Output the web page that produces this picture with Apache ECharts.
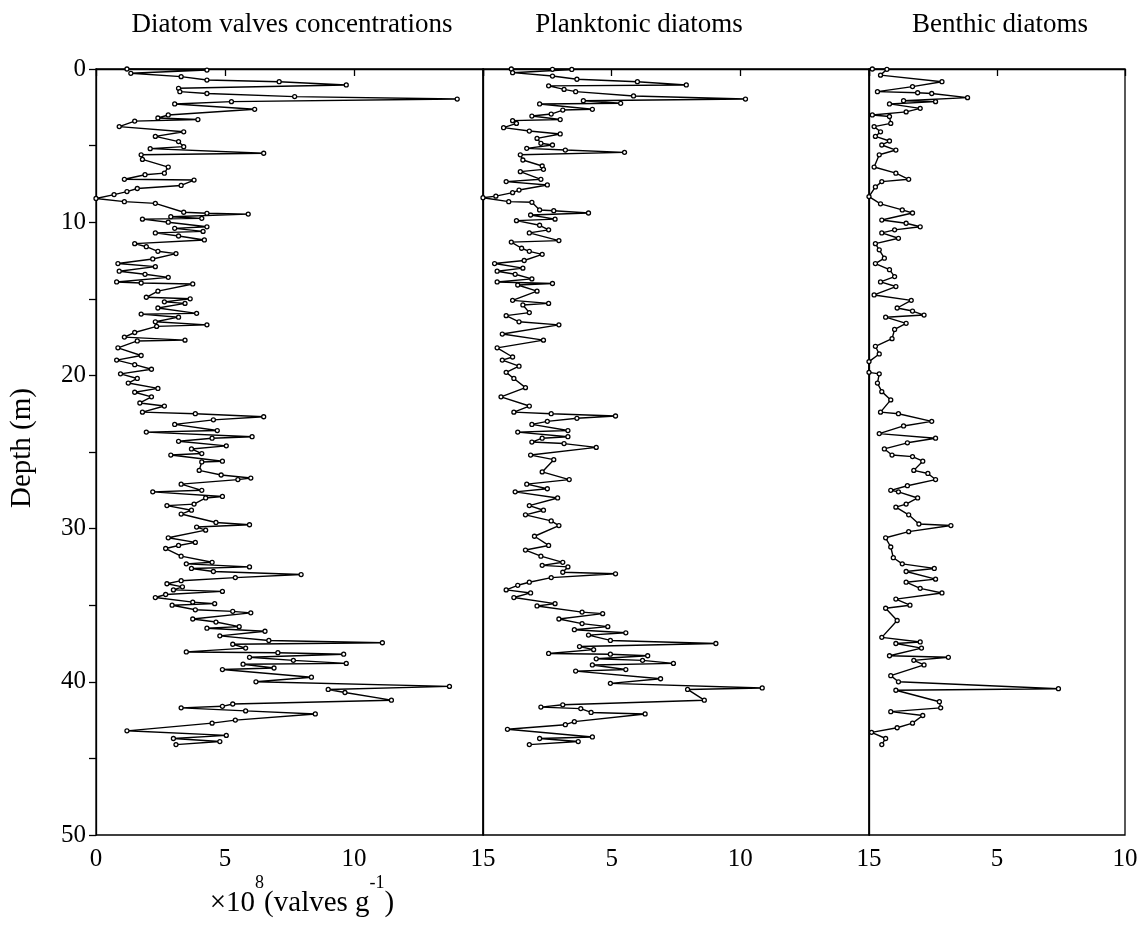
<!DOCTYPE html>
<html>
<head>
<meta charset="utf-8">
<script src="https://cdn.jsdelivr.net/npm/echarts@6/dist/echarts.min.js"></script>
<style>
  html, body { margin: 0; padding: 0; background: #fff; }
  #chart { width: 1145px; height: 929px; }
</style>
</head>
<body>
<div id="chart"></div>
<script>
// depth (m) and value (x10^8 valves/g)
var totalDepth = [0.0,0.07,0.28,0.5,0.72,0.83,1.04,1.26,1.48,1.6,1.8,1.96,2.13,2.28,2.63,3.0,3.2,3.3,3.4,3.76,4.1,4.4,4.74,5.07,5.2,5.5,5.6,5.9,6.4,6.8,6.9,7.2,7.25,7.6,7.8,8.0,8.2,8.45,8.66,8.77,9.35,9.42,9.47,9.64,9.75,9.8,10.0,10.3,10.4,10.6,10.7,10.9,11.16,11.4,11.6,11.9,12.05,12.4,12.7,12.9,13.2,13.4,13.6,13.9,13.97,14.03,14.5,14.9,15.0,15.2,15.3,15.6,15.95,16.0,16.2,16.5,16.7,16.8,17.2,17.5,17.7,17.75,18.2,18.7,19.0,19.3,19.6,19.9,20.2,20.5,20.85,21.1,21.4,21.8,22.0,22.4,22.5,22.7,22.9,23.2,23.6,23.7,24.0,24.1,24.3,24.6,24.8,25.1,25.2,25.6,25.65,26.2,26.5,26.7,26.8,27.1,27.5,27.6,27.9,28.0,28.4,28.5,28.8,29.05,29.6,29.75,29.9,30.1,30.6,30.9,31.1,31.3,31.8,32.2,32.3,32.5,32.6,32.8,33.0,33.2,33.4,33.6,33.8,34.0,34.1,34.3,34.5,34.8,34.9,35.0,35.3,35.4,35.5,35.9,36.1,36.4,36.5,36.7,37.0,37.3,37.45,37.55,37.8,38.05,38.1,38.2,38.4,38.6,38.8,38.85,39.1,39.2,39.7,40.0,40.3,40.5,40.7,41.2,41.45,41.6,41.7,41.9,42.1,42.5,42.7,43.2,43.5,43.7,43.9,44.1];
var totalValue = [1.2,4.3,1.35,3.3,4.3,7.1,9.7,3.2,3.25,4.3,7.7,14.0,5.25,3.05,6.15,2.8,2.4,3.95,1.5,0.9,3.4,2.3,3.2,3.4,2.1,6.5,1.75,1.8,2.8,2.65,1.9,1.1,3.8,3.3,1.6,1.2,0.7,0.0,1.1,2.3,3.4,4.3,5.9,2.9,4.1,1.8,2.8,4.3,3.05,4.15,2.3,3.2,4.2,1.5,1.95,2.4,3.1,2.2,0.85,2.3,0.9,1.9,2.8,0.8,1.75,3.75,2.4,1.95,3.65,2.65,3.45,2.4,3.9,1.75,3.2,2.3,4.3,2.35,1.5,1.1,3.45,1.6,0.85,1.75,0.8,1.5,2.15,0.95,1.6,1.25,2.4,1.5,2.15,1.7,2.65,1.8,3.85,6.5,4.55,3.05,4.7,1.95,6.05,4.5,3.2,5.05,3.7,4.1,2.9,4.9,4.1,4.0,4.85,6.0,5.5,3.3,4.1,2.2,4.9,4.25,3.8,2.75,3.7,3.3,4.65,5.95,3.9,4.25,2.8,3.85,3.2,2.7,3.3,4.5,3.5,5.95,3.7,4.55,7.95,5.4,3.3,2.75,3.35,3.0,4.9,2.7,2.3,3.75,4.6,2.95,3.85,5.3,6.0,3.75,4.65,5.55,4.3,6.55,4.8,6.7,11.1,5.3,5.8,3.5,7.05,9.6,5.95,7.65,9.7,5.7,6.9,4.9,8.35,6.2,13.7,9.0,9.65,11.45,5.3,4.9,3.3,5.8,8.5,5.4,4.5,1.2,5.05,3.0,4.8,3.1];

var plankDepth = [0.0,0.02,0.03,0.24,0.46,0.67,0.83,1.04,1.1,1.33,1.48,1.76,1.96,2.07,2.24,2.28,2.63,2.68,2.94,3.07,3.3,3.37,3.55,3.83,4.05,4.24,4.53,4.85,4.96,5.18,5.29,5.44,5.6,5.94,6.33,6.55,6.7,7.2,7.35,7.57,7.9,8.07,8.3,8.4,8.66,8.7,9.2,9.25,9.4,9.53,9.8,9.9,10.2,10.5,10.7,11.2,11.3,11.7,11.9,12.1,12.5,12.7,13.0,13.2,13.4,13.7,13.9,14.0,14.1,14.5,15.1,15.3,15.4,15.9,16.1,16.5,16.7,17.3,17.7,18.2,18.8,19.0,19.4,19.8,20.2,20.8,21.4,22.0,22.4,22.5,22.65,22.8,23.0,23.2,23.6,23.7,24.0,24.1,24.35,24.45,24.7,25.2,25.5,26.3,26.8,27.1,27.4,27.6,28.0,28.5,28.8,29.1,29.5,29.8,30.5,31.1,31.4,31.8,32.2,32.4,32.5,32.85,32.95,33.2,33.5,33.7,34.0,34.2,34.5,34.9,35.05,35.45,35.55,35.9,36.2,36.4,36.6,36.8,36.95,37.3,37.5,37.7,37.9,38.15,38.2,38.3,38.5,38.6,38.8,38.9,39.2,39.3,39.8,40.1,40.4,40.5,41.2,41.5,41.65,41.75,42.0,42.1,42.6,42.8,43.1,43.6,43.7,43.9,44.1];
var plankValue = [1.1,2.7,3.45,1.15,2.7,3.65,6.0,7.9,2.55,3.15,3.6,5.85,10.2,3.9,5.35,2.2,4.25,3.1,2.65,1.9,3.0,1.15,1.3,0.8,1.8,3.0,2.1,2.25,2.7,1.7,3.2,5.5,1.45,1.55,2.3,2.35,1.45,2.25,0.9,2.5,1.4,1.15,0.5,0.0,1.0,1.9,2.2,2.75,4.1,1.85,2.8,1.3,2.2,2.55,1.8,2.95,1.1,1.5,1.8,2.3,1.6,0.45,1.55,0.55,1.25,1.9,0.55,2.7,1.35,2.1,1.15,2.55,1.55,1.8,0.9,1.4,2.95,0.75,2.35,0.55,1.15,0.75,1.4,0.9,1.2,1.65,0.7,1.8,1.2,2.65,5.15,3.65,2.5,1.9,3.3,1.35,3.3,2.3,1.9,3.15,4.4,1.85,2.75,2.3,3.35,1.7,2.5,1.25,2.9,1.8,2.35,1.65,2.65,2.95,2.0,2.55,1.65,2.25,3.1,2.3,3.3,3.1,5.15,2.65,1.8,1.35,0.9,1.85,1.2,2.8,2.1,3.85,4.65,2.95,3.85,4.85,3.55,5.55,4.1,4.95,9.05,3.75,4.3,2.55,4.95,6.4,4.4,6.2,7.4,4.25,5.55,3.6,6.9,4.95,10.85,7.95,8.6,3.1,2.25,3.8,4.2,6.3,3.55,3.2,0.95,4.25,2.2,3.7,1.8];

var benthDepth = [0.0,0.02,0.4,0.83,1.15,1.48,1.55,1.6,1.87,2.07,2.13,2.28,2.57,2.8,3.0,3.1,3.55,3.76,4.1,4.4,4.7,4.96,5.29,5.6,6.4,6.8,7.2,7.35,7.7,8.33,8.8,9.2,9.4,9.86,10.07,10.3,10.5,10.7,11.05,11.4,11.8,12.35,12.7,13.1,13.55,13.9,14.2,14.75,15.1,15.6,15.8,16.06,16.2,16.6,17.0,17.6,18.1,18.6,19.1,19.8,19.9,20.5,21.06,21.6,22.4,22.5,23.0,23.3,23.8,24.1,24.4,24.8,25.2,25.3,25.6,26.2,26.4,26.8,27.2,27.5,27.6,28.0,28.4,28.6,29.1,29.7,29.8,30.2,30.6,31.2,31.9,32.3,32.6,32.8,33.3,33.5,33.9,34.2,34.6,35.0,35.2,36.0,37.1,37.4,37.5,37.8,38.3,38.4,38.6,38.9,39.6,40.0,40.45,40.55,41.3,41.7,41.95,42.2,42.7,43.0,43.3,43.7,44.1];
var benthValue = [0.13,0.7,0.45,2.85,1.7,0.33,1.9,2.45,3.85,1.35,2.6,0.8,2.0,1.45,0.13,0.8,0.85,0.2,0.45,0.25,0.8,0.5,1.05,0.4,0.2,1.05,1.55,0.5,0.25,0.0,0.45,1.3,1.7,0.5,1.45,2.0,1.0,0.5,1.15,0.25,0.4,0.6,0.25,0.8,1.0,0.45,1.05,0.2,1.65,1.1,1.7,2.15,0.65,1.45,1.0,0.9,0.25,0.4,0.0,0.0,0.4,0.33,0.5,0.85,0.45,1.15,2.45,1.35,0.4,2.6,1.5,0.6,0.9,1.7,2.1,1.75,2.3,2.6,1.5,0.85,1.15,1.9,1.45,1.05,1.55,1.95,3.2,1.55,0.65,0.85,0.95,1.3,2.55,1.45,2.6,1.45,2.0,2.85,1.05,1.6,0.65,1.1,0.5,2.0,1.05,2.05,0.8,3.1,1.75,2.15,0.85,1.15,7.4,1.05,2.75,2.8,0.85,2.1,1.7,1.1,0.1,0.65,0.5];

var panelTitles = ['Diatom valves concentrations', 'Planktonic diatoms', 'Benthic diatoms'];
var panelMax = [15, 15, 10];
var depthMax = 50;

var chart = echarts.init(document.getElementById('chart'));
var FONT = '"Liberation Serif", "DejaVu Serif", serif';

var grids = [
    { left: 96, top: 69, width: 387, height: 766 },
    { left: 483, top: 69, width: 386, height: 766 },
    { left: 869, top: 69, width: 256, height: 766 }
];

function pairs(depths, values) {
    var out = [];
    for (var i = 0; i < depths.length; i++) {
        out.push([values[i], depths[i]]);
    }
    return out;
}
var seriesData = [
    pairs(totalDepth, totalValue),
    pairs(plankDepth, plankValue),
    pairs(benthDepth, benthValue)
];

var xAxes = [], yAxes = [], series = [];
for (var i = 0; i < 3; i++) {
    grids[i].show = true;
    grids[i].borderColor = '#000';
    grids[i].borderWidth = 1.3;
    grids[i].backgroundColor = 'transparent';
    (function(idx) {
        xAxes.push({
            type: 'value', gridIndex: idx, min: 0, max: panelMax[idx], interval: 5,
            position: 'bottom',
            axisLine: { show: true, lineStyle: { color: '#000', width: 1.3 } },
            axisTick: { show: true, length: 7, lineStyle: { color: '#000', width: 1.3 } },
            splitLine: { show: false },
            axisLabel: {
                color: '#000', fontFamily: FONT, fontSize: 25, margin: 12,
                formatter: function(v) { return (idx > 0 && v === 0) ? '' : String(v); }
            }
        });
        yAxes.push({
            type: 'value', gridIndex: idx, min: 0, max: depthMax, interval: 5, inverse: true,
            axisLine: { show: true, lineStyle: { color: '#000', width: 1.3 } },
            axisTick: { show: idx === 0, length: 7, lineStyle: { color: '#000', width: 1.3 } },
            splitLine: { show: false },
            axisLabel: {
                show: idx === 0, color: '#000', fontFamily: FONT, fontSize: 25, margin: 10,
                formatter: function(v) { return v % 10 === 0 ? String(v) : ''; }
            }
        });
    })(i);
    series.push({
        type: 'line', xAxisIndex: i, yAxisIndex: i,
        data: seriesData[i],
        symbol: 'circle', symbolSize: 4, showSymbol: true,
        lineStyle: { color: '#000', width: 1.4 },
        itemStyle: { color: '#fff', borderColor: '#000', borderWidth: 1.3 },
        animation: false
    });
}

var titleX = [292, 639, 1000];
var graphics = [];
for (var j = 0; j < 3; j++) {
    graphics.push({
        type: 'text', x: titleX[j], y: 25,
        style: { text: panelTitles[j], font: '27px ' + FONT, fill: '#000', textAlign: 'center', textVerticalAlign: 'middle' }
    });
}
graphics.push({
    type: 'text', x: 22, y: 448, rotation: Math.PI / 2,
    style: { text: 'Depth (m)', font: '29px ' + FONT, fill: '#000', textAlign: 'center', textVerticalAlign: 'middle' }
});
graphics.push({
    type: 'text', x: 302, y: 896,
    style: {
        text: '{n|×10}{s|8}{n|(valves g}{s|-1}{n|)}',
        textAlign: 'center', textVerticalAlign: 'middle',
        rich: {
            n: { fontFamily: FONT, fontSize: 29, fill: '#000', lineHeight: 44, verticalAlign: 'bottom' },
            s: { fontFamily: FONT, fontSize: 18, fill: '#000', lineHeight: 44, verticalAlign: 'top' }
        }
    }
});

chart.setOption({
    animation: false,
    backgroundColor: '#fff',
    grid: grids,
    xAxis: xAxes,
    yAxis: yAxes,
    series: series,
    graphic: graphics
});
</script>
</body>
</html>
